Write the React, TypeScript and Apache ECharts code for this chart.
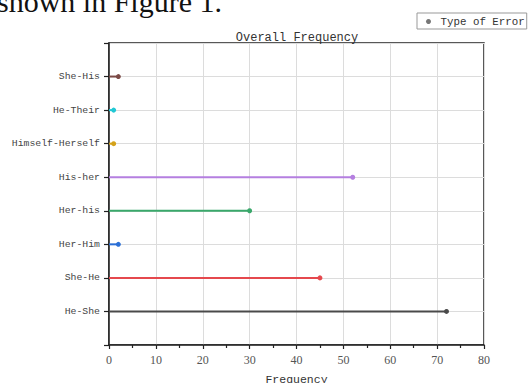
import React, { useEffect, useRef } from "react";
import * as echarts from "echarts";

// bottom-to-top order
const categories = ["He-She", "She-He", "Her-Him", "Her-his", "His-her", "Himself-Herself", "He-Their", "She-His"];
const values = [72, 45, 2, 30, 52, 1, 1, 2];
const colors = ["#4a4a4a", "#e5484d", "#2b6fd6", "#3aa86b", "#b57fe0", "#d4a21a", "#22c8d4", "#7b4a46"];
const xTicks = [0, 10, 20, 30, 40, 50, 60, 70, 80];

const MONO = "'Liberation Mono', 'DejaVu Sans Mono', monospace";
const SERIF = "'Liberation Serif', 'DejaVu Serif', serif";

export default function App() {
  const ref = useRef<HTMLDivElement>(null);
  useEffect(() => {
    if (!ref.current) return;
    const chart = echarts.init(ref.current, null, { renderer: "svg" });
    const lollipops = categories.map((name, i) => ({
      type: "line",
      name,
      data: [[0, i + 1], [values[i], i + 1]],
      symbol: "circle",
      symbolSize: (_v: any, p: any) => (p.dataIndex === 0 ? 0 : 5),
      showSymbol: true,
      lineStyle: { color: colors[i], width: 2 },
      itemStyle: { color: colors[i] },
      z: 3,
    }));
    chart.setOption({
      animation: false,
      backgroundColor: "#ffffff",
      title: {
        text: "Overall Frequency",
        left: 292,
        textAlign: "center",
        top: 27,
        textStyle: { fontFamily: MONO, fontSize: 12, fontWeight: "normal", color: "#333" },
      },
      legend: {
        data: [{ name: "Type of Error", icon: "circle" }],
        left: 417,
        top: 13,
        orient: "horizontal",
        itemWidth: 14,
        itemHeight: 5,
        padding: [3, 2, 2, 9],
        borderColor: "#999",
        borderWidth: 1,
        borderRadius: 0,
        textStyle: { fontFamily: MONO, fontSize: 10.8, color: "#333" },
      },
      graphic: [
        {
          type: "text",
          left: -3,
          y: 1,
          style: {
            text: "shown in Figure 1.",
            font: "30px " + SERIF,
            fill: "#111",
            verticalAlign: "middle",
          },
        },
      ],
      grid: {
        left: 109,
        right: 45,
        top: 43,
        bottom: 38,
        show: true,
        borderColor: "#222",
        borderWidth: 1.5,
        containLabel: false,
        outerBoundsMode: "none",
      },
      xAxis: {
        type: "value",
        min: xTicks[0],
        max: xTicks[xTicks.length - 1],
        interval: 10,
        name: "Frequency",
        nameLocation: "middle",
        nameGap: 28,
        nameTextStyle: { fontFamily: MONO, fontSize: 11.5, color: "#333" },
        axisLine: { show: true, lineStyle: { color: "#222", width: 1.5 } },
        axisTick: { show: true, length: 4, lineStyle: { color: "#222", width: 1.2 } },
        minorTick: { show: true, splitNumber: 2, length: 3, lineStyle: { color: "#222", width: 1.2 } },
        axisLabel: { margin: 9, fontFamily: SERIF, fontSize: 12, color: "#555" },
        splitLine: { show: true, lineStyle: { color: "#dcdcdc", width: 1 } },
      },
      yAxis: {
        type: "value",
        min: 0,
        max: categories.length + 1,
        interval: 1,
        axisLine: { show: true, lineStyle: { color: "#222", width: 1.5 } },
        axisTick: { show: true, length: 5, lineStyle: { color: "#222", width: 1.2 } },
        axisLabel: {
          margin: 9,
          fontFamily: MONO,
          fontSize: 9.8,
          color: "#444",
          formatter: (v: number) => categories[v - 1] ?? "",
        },
        splitLine: { show: true, lineStyle: { color: "#dcdcdc", width: 1 } },
      },
      series: [
        ...lollipops,
        { type: "scatter", name: "Type of Error", data: [], itemStyle: { color: "#555" } },
      ],
    });
    return () => chart.dispose();
  }, []);
  return <div ref={ref} style={{ width: 529, height: 383, position: "absolute", left: 0, top: 0 }} />;
}
